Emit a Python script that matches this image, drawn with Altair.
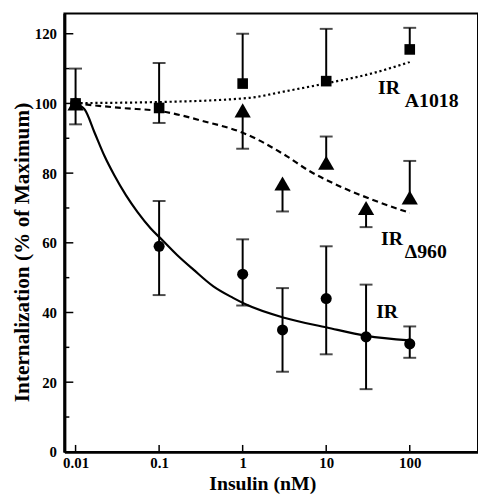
import altair as alt
import pandas as pd

FONT = "Liberation Serif"

# ---- measured points ----
# IR (circles)
ir_x = [0.01, 0.1, 1, 3, 10, 30, 100]
ir_y = [100, 59, 51, 35, 44, 33, 31]
ir_lo = [94, 45, 42, 23, 28, 18, 27]
ir_hi = [110, 72, 61, 47, 59, 48, 36]

# IR delta960 (triangles)
d960_x = [0.01, 1, 3, 10, 30, 100]
d960_y = [100, 98, 77, 83, 70, 73]
d960_lo = [100, 87, 69, 83, 64.5, 73]
d960_hi = [100, 98, 77, 90.5, 70, 83.5]

# IR A1018 (squares)
a1018_x = [0.01, 0.1, 1, 10, 100]
a1018_y = [100, 98.7, 105.7, 106.4, 115.5]
a1018_lo = [100, 94.4, 105.7, 106.4, 115.5]
a1018_hi = [100, 111.6, 120, 121.4, 121.7]

# ---- fitted curves ----
ir_curve_x = [0.01, 0.0129, 0.0169, 0.0222, 0.0292, 0.0402, 0.0552, 0.0794, 0.109,
              0.164, 0.258, 0.446, 0.767, 1.1, 3.14, 10.2, 30.4, 100]
ir_curve_y = [100, 98.2, 91.6, 84.9, 79.3, 73.6, 68.8, 64.1, 60.8,
              56.5, 52.3, 47.5, 44.2, 42.3, 38.5, 35.7, 33.3, 32.0]

a1018_curve_x = [0.01, 0.1, 1.2, 3.1, 10.2, 35, 100]
a1018_curve_y = [100.1, 100.4, 101.6, 103.4, 105.8, 108.6, 111.9]

d960_curve_x = [0.01, 0.035, 0.11, 0.34, 1.0, 3.2, 6.2, 14, 34.5, 100]
d960_curve_y = [100, 98.7, 97.7, 94.9, 91.6, 85.2, 80.7, 76.4, 72.5, 68.6]

# ---- annotations ----
ann_text = ["IR", "A1018", "IR", "\u0394960", "IR"]
ann_x = [41.8, 87.3, 45.4, 87.3, 39.6]
ann_y = [102.6, 98.9, 59.4, 55.7, 38.4]

# ---- axis ----
x_domain = [0.00735, 656]
y_domain = [0, 125.8]
x_ticks = [0.01, 0.1, 1, 10, 100]
y_major = [0, 20, 40, 60, 80, 100, 120]
y_minor = [10, 30, 50, 70, 90, 110]

W, H = 418, 443

xs = alt.Scale(type="log", domain=x_domain, nice=False)
ys = alt.Scale(domain=y_domain, nice=False, zero=False)

def pts(x, y, lo, hi):
    return pd.DataFrame({"x": x, "y": y, "lo": lo, "hi": hi})

p_ir = pts(ir_x, ir_y, ir_lo, ir_hi)
p_d = pts(d960_x, d960_y, d960_lo, d960_hi)
p_a = pts(a1018_x, a1018_y, a1018_lo, a1018_hi)
points = pd.concat([p_ir, p_d, p_a])

bars = points[points["hi"] > points["lo"]]
caps_rows = []
for _, r in points.iterrows():
    if r["lo"] < r["y"]:
        caps_rows.append({"x": r["x"], "y": r["lo"]})
    if r["hi"] > r["y"]:
        caps_rows.append({"x": r["x"], "y": r["hi"]})
caps = pd.DataFrame(caps_rows)

X = alt.X("x:Q", scale=xs, axis=alt.Axis(
    values=x_ticks, format="~g", ticks=False, tickSize=0, grid=False,
    labelFont=FONT, labelFontWeight="bold", labelFontSize=15, labelPadding=4,
    labelColor="black", labelFlush=False,
    title="Insulin (nM)", titleFont=FONT, titleFontWeight="bold", titleFontSize=20,
    titleColor="black", titlePadding=3, titleX=200,
    domainColor="black", domainWidth=3))
Y = alt.Y("y:Q", scale=ys, axis=alt.Axis(
    values=y_major, ticks=False, tickSize=0, grid=False,
    labelFont=FONT, labelFontWeight="bold", labelFontSize=15, labelPadding=8,
    labelColor="black",
    title="Internalization (% of Maximum)", titleFont=FONT, titleFontWeight="bold",
    titleFontSize=21.5, titleColor="black", titlePadding=1, titleY=241,
    domainColor="black", domainWidth=3))

bar_layer = alt.Chart(bars).mark_rule(color="black", strokeWidth=2).encode(
    x=alt.X("x:Q", scale=xs), y=alt.Y("lo:Q", scale=ys), y2="hi:Q")
cap_layer = alt.Chart(caps).mark_tick(color="black", orient="horizontal", size=13,
                                      thickness=2).encode(
    x=alt.X("x:Q", scale=xs), y=alt.Y("y:Q", scale=ys))

def curve(x, y, dash):
    df = pd.DataFrame({"x": x, "y": y})
    kw = dict(color="black", strokeWidth=2.2, interpolate="monotone")
    if dash:
        kw["strokeDash"] = dash
    return alt.Chart(df).mark_line(**kw).encode(
        x=alt.X("x:Q", scale=xs), y=alt.Y("y:Q", scale=ys))

c_ir = curve(ir_curve_x, ir_curve_y, None)
c_a = curve(a1018_curve_x, a1018_curve_y, [2.2, 2.8])
c_d = curve(d960_curve_x, d960_curve_y, [6, 4])

def sym(df, shape, size, axes=False):
    enc_x = X if axes else alt.X("x:Q", scale=xs)
    enc_y = Y if axes else alt.Y("y:Q", scale=ys)
    return alt.Chart(df).mark_point(filled=True, color="black", opacity=1,
                                    shape=shape, size=size).encode(x=enc_x, y=enc_y)

m_ir = sym(p_ir, "circle", 125, axes=True)
m_d = sym(p_d, "triangle-up", 270)
m_a = sym(p_a, "square", 115)

ann = pd.DataFrame({"t": ann_text, "x": ann_x, "y": ann_y})
ann_layer = alt.Chart(ann).mark_text(font=FONT, fontWeight="bold", fontSize=20,
                                     align="left", baseline="alphabetic",
                                     color="black").encode(
    x=alt.X("x:Q", scale=xs), y=alt.Y("y:Q", scale=ys), text="t:N")

ytm = alt.Chart(pd.DataFrame({"y": y_major})).mark_rule(color="black", strokeWidth=1.5).encode(
    y=alt.Y("y:Q", scale=ys), x=alt.value(0), x2=alt.value(9))
ytn = alt.Chart(pd.DataFrame({"y": y_minor})).mark_rule(color="black", strokeWidth=1.5).encode(
    y=alt.Y("y:Q", scale=ys), x=alt.value(0), x2=alt.value(5))
xtm = alt.Chart(pd.DataFrame({"x": x_ticks})).mark_rule(color="black", strokeWidth=1.5).encode(
    x=alt.X("x:Q", scale=xs), y=alt.value(H), y2=alt.value(H - 7))

chart = alt.layer(
    m_ir, m_d, m_a, c_ir, c_a, c_d, bar_layer, cap_layer, ann_layer, ytm, ytn, xtm
).properties(
    width=W, height=H,
    padding={"left": 3, "top": 3, "right": 0, "bottom": 0},
    background="white",
).configure_view(stroke="black", strokeWidth=2)

chart.save("out.html", embed_options={"renderer": "svg", "actions": False})
